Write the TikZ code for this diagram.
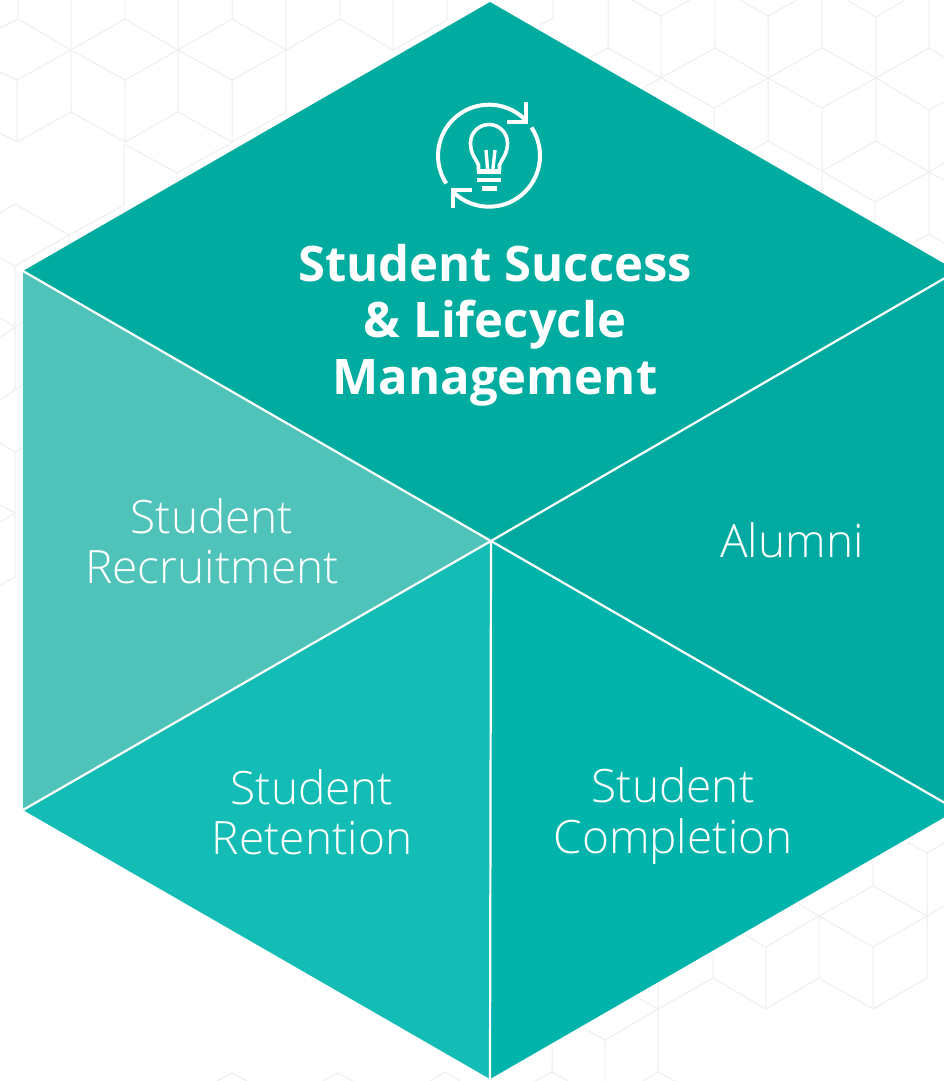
\documentclass[tikz,border=0pt]{standalone}
\usepackage{fontspec}
\setmainfont{Open Sans}
\newfontfamily\lightfont{Open Sans Light}
\definecolor{topc}{HTML}{00AB9F}
\definecolor{leftc}{HTML}{4FC3B9}
\definecolor{blc}{HTML}{13BCB5}
\definecolor{brc}{HTML}{00B4AC}
\definecolor{rc}{HTML}{00AAA0}
\definecolor{pat}{HTML}{EEEEEE}
\tikzset{panel/.style={draw=white,line width=2.2pt,line join=miter},
 lbl/.style={text=white,align=center,font=\lightfont\fontsize{46}{50.5}\selectfont,inner sep=0pt},
 ttl/.style={text=white,align=center,font=\bfseries\fontsize{49}{56.5}\selectfont,inner sep=0pt},
 patl/.style={draw=pat,line width=1pt},
 ico/.style={draw=white,line width=4pt,line join=miter},
 icb/.style={draw=white,line width=4.8pt}}
\begin{document}
\begin{tikzpicture}[x=1pt,y=-1pt]
\useasboundingbox (0,0) rectangle (944,1081);
\clip (0,0) rectangle (944,1081);
\fill[white] (0,0) rectangle (944,1081);
\draw[patl] (18,0)--(18,19) (71,0)--(71,112) (125,0)--(125,19) (178,0)--(178,112) (232,0)--(232,19) (286,0)--(286,112) (340,0)--(340,19)
 (393,0)--(393,50)--(447,20) (447,0)--(447,20) (553,0)--(553,18)--(540,25)
 (0,28)--(18,19)--(71,50)--(125,19)--(178,50)--(232,19)--(286,50)--(340,19)--(393,50)
 (0,72)--(17,80)--(71,50)--(125,80)--(178,50)--(232,80)--(286,50)
 (0,133)--(17,142)--(71,112)--(125,142)--(178,112)--(232,142)--(286,112)
 (17,80)--(17,142) (125,80)--(125,142) (232,80)--(232,142)
 (124,144)--(124,205) (124,144)--(177,173)--(231,143) (177,173)--(177,182)
 (0,213)--(15,204)--(69,235)--(15,266)--(0,258) (69,235)--(124,205) (69,235)--(69,245)
 (15,266)--(15,327)--(15,390)--(0,400) (0,318)--(15,327)--(0,337) (15,327)--(30,318) (15,390)--(30,380)
 (0,443)--(15,452)--(30,443) (15,452)--(15,513)--(15,577)--(0,585) (0,505)--(15,513)--(0,522)
 (608,0)--(608,48) (661,16)--(661,78) (715,0)--(715,48) (768,16)--(768,140) (822,0)--(822,48)
 (822,108)--(822,192) (876,17)--(876,141) (929,0)--(929,48) (929,110)--(929,233)
 (591,57)--(608,48)--(661,78)--(715,48)--(768,78)--(822,48)--(876,78)--(929,48)--(944,57)
 (632,0)--(661,16)--(690,0) (740,0)--(768,16)--(797,0) (847,0)--(876,17)--(905,0) 
 (643,88)--(661,78)--(714,108)--(768,78)--(822,108)--(876,78)--(929,110)--(944,102) (714,108)--(714,128)
 (752,150)--(768,141)--(822,171)--(876,141)--(929,172)--(944,163)
 (822,171)--(875,202)--(929,172)--(944,180) (875,202)--(875,222) (912,243)--(929,234)--(944,243)
 (873,860)--(873,886)--(927,916)--(873,947)--(819,916)--(873,886)
 (927,853)--(927,978) (907,842)--(927,853)--(944,843) (927,916)--(944,906)
 (819,916)--(766,947)--(745,935) (799,904)--(819,916)--(819,978)
 (873,947)--(873,1009) (766,947)--(766,1009) (713,953)--(713,978)--(766,1009)--(819,978)--(873,1009)--(927,978)
 (713,978)--(658,1009)--(637,997) (658,983)--(658,1072) (658,1009)--(605,1040)--(583,1028) (605,1040)--(605,1081)
 (552,1047)--(552,1072) (535,1081)--(552,1072)--(568,1081) (643,1081)--(658,1072)--(675,1081)
 (217,1081)--(232,1073)--(247,1081) (323,1081)--(338,1073)--(353,1081) (430,1081)--(445,1072)--(460,1081);
\coordinate (C) at (491,541);
\coordinate (T) at (490,2);
\coordinate (TL) at (23,271);
\coordinate (BL) at (23,810);
\coordinate (B) at (490,1079);
\coordinate (BR) at (957,810);
\coordinate (TR) at (957,271);
\fill[topc] (T)--(TR)--(C)--(TL)--cycle;
\fill[rc] (TR)--(BR)--(C)--cycle;
\fill[brc] (BR)--(B)--(C)--cycle;
\fill[blc] (B)--(BL)--(C)--cycle;
\fill[leftc] (BL)--(TL)--(C)--cycle;
\draw[panel] (TL)--(C) (TR)--(C) (BL)--(C) (BR)--(C) (B)--(C);
\node[ttl] (title) at (495,325) {Student Success\\\& Lifecycle\\Management};
\node[lbl] (rec) at (212,541) {Student\\Recruitment};
\node[lbl] (alu) at (792,540) {Alumni};
\node[lbl] (ret) at (312,812) {Student\\Retention};
\node[lbl] (com) at (673,816) {Student\\Completion};
% icon
\coordinate (ic) at (489,155.7);
\draw[ico] (ic) ++(147:51) arc[start angle=147,end angle=317,radius=51];
\draw[ico] (ic) ++(-33.6:51) arc[start angle=-33.6,end angle=136,radius=51];
\draw[ico] (526,102.3)--(526,121.7)--(506.7,121.7);
\draw[ico] (471.7,190)--(452.7,190)--(452.7,208.3);
\draw[ico,line width=3.6pt] (478.5,171)--(478.5,165) .. controls (476,159) and (470.5,154) .. (470.5,143)
  arc[start angle=180,end angle=360,radius=18.5]
  .. controls (507.5,154) and (502,159) .. (499.5,165)--(499.5,171);
\draw[ico,line width=3.4pt] (486,150)--(487.7,171) (495,150)--(492.7,171);
\draw[icb] (477.3,171.5)--(500.7,171.5) (477.3,180)--(500.7,180) (481.7,188.3)--(497.3,188.3);
\end{tikzpicture}
\end{document}
